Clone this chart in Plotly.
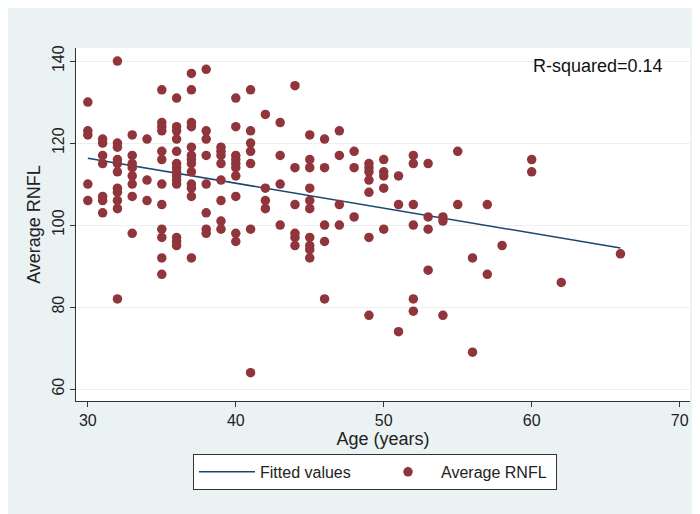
import plotly.graph_objects as go

# ages (years) with the Average RNFL values seen at each age
ageGroups = [30, 31, 32, 33, 34, 35, 36, 37, 38, 39, 40, 41, 42, 43, 44, 45, 46, 47,
             48, 49, 50, 51, 52, 53, 54, 55, 56, 57, 58, 60, 62, 66]
rnflByAge = [
    [130, 123, 122, 110, 106],
    [121, 120, 117, 115, 107, 106, 103],
    [140, 120, 119, 116, 115, 113, 109, 108, 106, 104, 82],
    [122, 117, 115, 114, 112, 110, 107, 98],
    [121, 111, 106],
    [133, 125, 124, 123, 118, 116, 110, 105, 99, 97, 92, 88],
    [131, 124, 123, 121, 118, 115, 114, 113, 112, 111, 110, 97, 96, 95],
    [137, 133, 125, 124, 119, 117, 116, 115, 113, 110, 109, 107, 92],
    [138, 123, 121, 117, 110, 103, 99, 98],
    [119, 118, 117, 115, 111, 106, 101, 99],
    [131, 124, 117, 116, 115, 114, 112, 107, 98, 96],
    [133, 123, 120, 118, 115, 99, 64],
    [127, 109, 106, 104],
    [125, 117, 110, 100],
    [134, 114, 105, 98, 97, 95],
    [122, 116, 114, 109, 106, 104, 97, 95, 94, 92],
    [121, 114, 100, 96, 82],
    [123, 117, 105, 100],
    [118, 114, 102],
    [115, 114, 113, 111, 108, 97, 78],
    [116, 113, 112, 109, 99],
    [112, 105, 74],
    [117, 115, 105, 100, 82, 79],
    [115, 102, 99, 89],
    [102, 101, 78],
    [118, 105],
    [92, 69],
    [105, 88],
    [95],
    [116, 113],
    [86],
    [93],
]

# fitted line end points
fitAge = [30, 66]
fitRnfl = [116.3, 94.4]

xTicks = [30, 40, 50, 60, 70]
yTicks = [60, 80, 100, 120, 140]

ages = []
rnfl = []
for a, vals in zip(ageGroups, rnflByAge):
    for v in vals:
        ages.append(a)
        rnfl.append(v)

fontFamily = "Liberation Sans, Arial, sans-serif"

fig = go.Figure()
fig.add_trace(go.Scatter(
    x=fitAge, y=fitRnfl,
    mode="lines",
    name="Fitted values",
    line=dict(color="#1A476F", width=1.5)
))
fig.add_trace(go.Scatter(
    x=ages, y=rnfl,
    mode="markers",
    name="Average RNFL",
    marker=dict(color="#90353B", size=9.5)
))

# the page body adds an 8px offset, margins are set with that in mind
fig.update_layout(
    width=700, height=514,
    paper_bgcolor="#EAF2F3",
    plot_bgcolor="white",
    margin=dict(l=68, r=18, t=40, b=121),
    font=dict(family=fontFamily, size=15, color="#222"),
    showlegend=True,
    legend=dict(
        orientation="h",
        x=0.487, xanchor="center",
        y=-0.15, yanchor="top",
        bgcolor="white",
        bordercolor="#333",
        borderwidth=1,
        entrywidth=110,
        itemwidth=56,
        font=dict(size=16)
    ),
    annotations=[dict(
        text="R-squared=0.14",
        xref="paper", yref="paper",
        x=0.959, y=0.949,
        xanchor="right", yanchor="middle",
        showarrow=False,
        font=dict(size=18, color="#111")
    )]
)

fig.update_xaxes(
    range=[29.2, 70.7],
    tickvals=xTicks,
    ticks="outside", ticklen=5, tickcolor="#333",
    showline=True, linecolor="#333", linewidth=1,
    showgrid=False, zeroline=False,
    automargin=False,
    tickfont=dict(size=16),
    title=dict(text="Age (years)", standoff=2)
)
fig.update_yaxes(
    range=[57.1, 143.2],
    tickvals=yTicks,
    tickangle=-90,
    ticks="outside", ticklen=5, tickcolor="#333",
    showline=True, linecolor="#333", linewidth=1,
    showgrid=True, gridcolor="#EDF0F1", gridwidth=1,
    zeroline=False,
    automargin=False,
    tickfont=dict(size=16),
    title=dict(text="Average RNFL", standoff=4)
)

fig.write_html("out.html")
